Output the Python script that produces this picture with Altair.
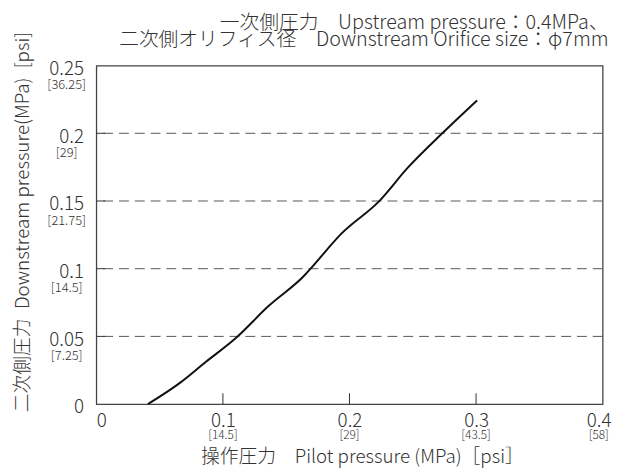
import altair as alt
import pandas as pd

# Curve (Pilot pressure MPa -> Downstream pressure MPa)
pilot = [0.0407, 0.0655, 0.0864, 0.110, 0.136, 0.1649, 0.170, 0.1936, 0.2237, 0.2459, 0.2733, 0.3008]
down = [0.0, 0.0153, 0.0311, 0.0486, 0.0724, 0.0955, 0.1008, 0.1259, 0.1501, 0.1744, 0.2, 0.2243]

x_ticks = [0.0, 0.1, 0.2, 0.3, 0.4]
x_inner_ticks = [0.1, 0.2, 0.3]
x_psi_vals = [0.1, 0.2, 0.3, 0.4]
x_psi_text = ["[14.5]", "[29]", "[43.5]", "[58]"]

y_ticks = [0.0, 0.05, 0.1, 0.15, 0.2, 0.25]
y_grid = [0.05, 0.1, 0.15, 0.2]
y_psi_vals = [0.05, 0.1, 0.15, 0.2, 0.25]
y_psi_text = ["[7.25]", "[14.5]", "[21.75]", "[29]", "[36.25]"]

title_lines = ["一次側圧力\u3000Upstream pressure：0.4MPa、",
               "二次側オリフィス径\u3000Downstream Orifice size：φ7mm"]
x_title = "操作圧力\u3000Pilot pressure (MPa)［psi］"
y_title = "二次側圧力\u2002Downstream pressure(MPa)\u2002[psi]"

FONT = "Noto Sans CJK JP"
TXT = "#333333"
W, H = 513, 343

curve_df = pd.DataFrame({"x": pilot, "y": down})
grid_df = pd.DataFrame({"y": y_grid})
xtick_df = pd.DataFrame({"x": x_inner_ticks})
xpsi_df = pd.DataFrame({"x": x_psi_vals[:-1], "t": x_psi_text[:-1]})
xpsi_last_df = pd.DataFrame({"x": x_psi_vals[-1:], "t": x_psi_text[-1:]})
ypsi_df = pd.DataFrame({"y": y_psi_vals, "t": y_psi_text})
title1_df = pd.DataFrame({"t": title_lines[:1]})
title2_df = pd.DataFrame({"t": title_lines[1:]})

x_enc = alt.X(
    "x:Q",
    scale=alt.Scale(domain=[0, 0.4], nice=False, zero=False),
    axis=alt.Axis(
        values=x_ticks, format="~g", ticks=False, domain=False, grid=False,
        labelFont=FONT, labelFontSize=19, labelFontWeight=300, labelColor=TXT, labelPadding=8,
        labelAlign={"condition": {"test": "datum.value == 0", "value": "left"}, "value": "center"},
        labelOffset={"condition": {"test": "datum.value == 0.4", "value": -4}, "value": 0},
        labelFlush=False,
        title=x_title, titleFont=FONT, titleFontSize=19, titleFontWeight=300,
        titleColor=TXT, titleX=269, titleY=53, titleBaseline="middle", titleAlign="center",
    ),
)
y_enc = alt.Y(
    "y:Q",
    scale=alt.Scale(domain=[0, 0.25], nice=False, zero=False),
    axis=alt.Axis(
        values=y_ticks, format="~g", ticks=False, domain=False, grid=False,
        labelFont=FONT, labelFontSize=19, labelFontWeight=300, labelColor=TXT, labelPadding=13,
        labelBaseline={"condition": {"test": "datum.value == 0", "value": "middle"}, "value": "top"},
        labelOffset={"condition": {"test": "datum.value == 0", "value": 3}, "value": -6},
        title=y_title, titleFont=FONT, titleFontSize=19, titleFontWeight=300,
        titleColor=TXT, titleX=-75, titleY=158, titleAngle=-90,
        titleBaseline="middle", titleAlign="center",
    ),
)

grid = alt.Chart(grid_df).mark_rule(color="#555555", strokeWidth=1, strokeDash=[10, 6]).encode(y=y_enc)

yticks = alt.Chart(grid_df).mark_rule(color="#333333", strokeWidth=1).encode(
    y=y_enc, x=alt.value(0), x2=alt.value(9)
)

xticks = alt.Chart(xtick_df).mark_rule(color="#333333", strokeWidth=1).encode(
    x=x_enc, y=alt.value(H), y2=alt.value(H - 11)
)

line = alt.Chart(curve_df).mark_line(color="#111111", strokeWidth=2, interpolate="monotone").encode(
    x=x_enc, y=y_enc
)

xpsi = alt.Chart(xpsi_df).mark_text(
    font=FONT, fontSize=12, fontWeight=300, color=TXT, align="center", baseline="middle"
).encode(x=x_enc, y=alt.value(H + 31.5), text="t:N")

xpsi_last = alt.Chart(xpsi_last_df).mark_text(
    font=FONT, fontSize=12, fontWeight=300, color=TXT, align="center", baseline="middle", dx=-4
).encode(x=x_enc, y=alt.value(H + 31.5), text="t:N")

ypsi = alt.Chart(ypsi_df).mark_text(
    font=FONT, fontSize=13, fontWeight=300, color=TXT, align="center", baseline="middle", dy=20
).encode(y=y_enc, x=alt.value(-30), text="t:N")

title1 = alt.Chart(title1_df).mark_text(
    font=FONT, fontSize=20, fontWeight=300, color=TXT, align="right", baseline="alphabetic"
).encode(x=alt.value(W + 6), y=alt.value(-37), text="t:N")

title2 = alt.Chart(title2_df).mark_text(
    font=FONT, fontSize=20, fontWeight=300, color=TXT, align="right", baseline="alphabetic"
).encode(x=alt.value(W + 6), y=alt.value(-20), text="t:N")

chart = alt.layer(grid, yticks, xticks, line, xpsi, xpsi_last, ypsi, title1, title2).properties(
    width=W,
    height=H,
    background="white",
    autosize=alt.AutoSizeParams(type="none"),
    padding={"left": 89.5, "top": 55.3, "right": 11.5, "bottom": 61.7},
).configure_view(stroke="#444444", strokeWidth=1.3)

chart.save("out.html", embed_options={"renderer": "svg", "actions": False})
